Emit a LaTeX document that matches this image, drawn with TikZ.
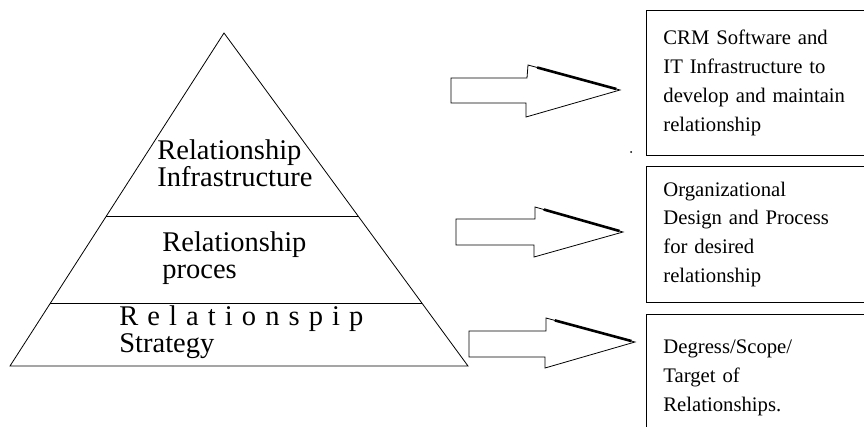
\documentclass[tikz,border=0pt]{standalone}
\usepackage{fontspec}
\setmainfont{Liberation Serif}
\usetikzlibrary{calc,positioning}

\tikzset{
  layertext/.style={anchor=west, align=left, inner sep=0pt, font=\fontsize{28.5}{27.5}\selectfont},
  infobox/.style={anchor=north west, text width=226pt,
    inner xsep=17pt, align=left, font=\fontsize{20.7}{28.8}\selectfont},
  openframe/.style={line width=0.8pt, line join=miter},
  blockarrow/.style={draw, line width=0.8pt, line join=miter},
  arrowshade/.style={line width=2.6pt}
}

\begin{document}
\begin{tikzpicture}[x=1pt, y=-1pt, line width=0.8pt]
    \useasboundingbox (0,0) rectangle (864,426);
    \clip (0,0) rectangle (864,426);

    % Pyramid with three layers
    \coordinate (apex) at (224,33);
    \coordinate (baseL) at (10,366);
    \coordinate (baseR) at (468,366);
    \draw (baseL) -- (apex) -- (baseR) -- cycle;
    \draw ($(apex)!0.5495!(baseL)$) -- ($(apex)!0.5495!(baseR)$);
    \draw ($(apex)!0.8108!(baseL)$) -- ($(apex)!0.8108!(baseR)$);
    \node[layertext] (infra) at (157,163) {Relationship\\Infrastructure};
    \node[layertext] (proc) at (162,258) {Relationship\\proces};
    \node[layertext] (strat) at (119,332) {\makebox[244pt][s]{R e l a t i o n s p i p}\\Strategy};

    % Boxes on the right (cut off at the right edge)
    \node[infobox, minimum height=145pt] (crmbox) at (646,10)
      {CRM Software and\\IT Infrastructure to\\develop and maintain\\relationship};
    \node[infobox, minimum height=136pt] (orgbox) at (646,166)
      {Organizational\\Design and Process\\for desired\\relationship};
    \node[infobox, minimum height=127pt] (scopebox) at (646,314)
      {Degress/Scope/\\Target of\\Relationships.};
    \draw[openframe] (crmbox.north east) -- (crmbox.north west) -- (crmbox.south west) -- (crmbox.south east);
    \draw[openframe] (orgbox.north east) -- (orgbox.north west) -- (orgbox.south west) -- (orgbox.south east);
    \draw[openframe] (scopebox.north east) -- (scopebox.north west) -- (scopebox.south west);
    \fill (631,152) circle (1pt);

    % Block arrows
    \coordinate (tipA) at (620,90);
    \coordinate (headA) at (528,65);
    \draw[blockarrow] (451,78) -- (527,78) -- (headA) -- (tipA) -- (526,117) -- (526,103) -- (451,103) -- cycle;
    \draw[arrowshade] ($(headA)!0.1!(tipA)$) -- ($(headA)!0.96!(tipA)$);

    \coordinate (tipB) at (623,232);
    \coordinate (headB) at (535,207);
    \draw[blockarrow] (456,219) -- (535,219) -- (headB) -- (tipB) -- (534,257) -- (534,245) -- (456,245) -- cycle;
    \draw[arrowshade] ($(headB)!0.1!(tipB)$) -- ($(headB)!0.96!(tipB)$);

    \coordinate (tipC) at (635,342);
    \coordinate (headC) at (546,318);
    \draw[blockarrow] (469,331) -- (546,331) -- (headC) -- (tipC) -- (545,368) -- (545,357) -- (469,357) -- cycle;
    \draw[arrowshade] ($(headC)!0.1!(tipC)$) -- ($(headC)!0.96!(tipC)$);
\end{tikzpicture}
\end{document}
